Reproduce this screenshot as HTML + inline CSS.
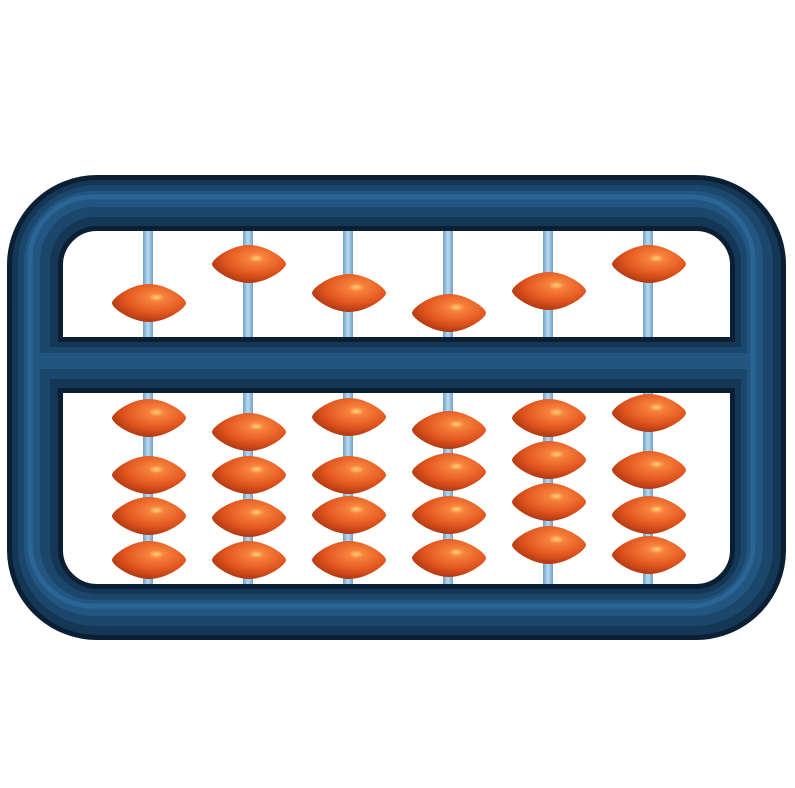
<!DOCTYPE html>
<html><head><style>html,body{margin:0;padding:0;background:#fff;}svg{display:block}</style></head>
<body>
<svg width="795" height="788" viewBox="0 0 795 788" xmlns="http://www.w3.org/2000/svg">
<defs>
<radialGradient id="bead" cx="0.6" cy="0.35" r="0.7">
<stop offset="0" stop-color="#ffd27a"/>
<stop offset="0.15" stop-color="#f7823c"/>
<stop offset="0.6" stop-color="#e2561f"/>
<stop offset="1" stop-color="#a83210"/>
</radialGradient>
<linearGradient id="rod" x1="0" x2="1">
<stop offset="0" stop-color="#6f9fc4"/><stop offset="0.5" stop-color="#b9dcf2"/><stop offset="1" stop-color="#6f9fc4"/>
</linearGradient>
<symbol id="b" viewBox="-38 -20 76 40" overflow="visible">
<path d="M-37,0 C-37,-5 -18,-19 0,-19 C18,-19 37,-5 37,0 C37,5 18,19 0,19 C-18,19 -37,5 -37,0 Z" fill="url(#bead)"/>
</symbol>
</defs>
<g fill="url(#rod)">
<rect x="143" y="230" width="10" height="355"/>
<rect x="243" y="230" width="10" height="355"/>
<rect x="343" y="230" width="10" height="355"/>
<rect x="443" y="230" width="10" height="355"/>
<rect x="543" y="230" width="10" height="355"/>
<rect x="643" y="230" width="10" height="355"/>
</g>
<g fill="none" stroke-linejoin="round">
<g stroke="#0a1f33" stroke-width="56">
<rect x="35" y="203" width="723" height="409" rx="62"/>
<line x1="35" y1="365" x2="758" y2="365"/>
</g>
<g stroke="#133754" stroke-width="46">
<rect x="35" y="203" width="723" height="409" rx="62"/>
<line x1="35" y1="365" x2="758" y2="365"/>
</g>
<g stroke="#1b476c" stroke-width="32" transform="translate(-1,-2)">
<rect x="35" y="203" width="723" height="409" rx="62"/>
<line x1="35" y1="365" x2="758" y2="365"/>
</g>
<g stroke="#22557f" stroke-width="16" transform="translate(-3,-4)">
<rect x="35" y="203" width="723" height="409" rx="62"/>
<line x1="35" y1="365" x2="758" y2="365"/>
</g>
<g stroke="#2f6c9e" stroke-width="5" transform="translate(-5,-6)" opacity="0.7">
<rect x="35" y="203" width="723" height="409" rx="62"/>
</g>
</g>
<g>
<use href="#b" x="111" y="283" width="76" height="40"/>
<use href="#b" x="211" y="244" width="76" height="40"/>
<use href="#b" x="311" y="273" width="76" height="40"/>
<use href="#b" x="411" y="293" width="76" height="40"/>
<use href="#b" x="511" y="271" width="76" height="40"/>
<use href="#b" x="611" y="244" width="76" height="40"/>

<use href="#b" x="111" y="398" width="76" height="40"/>
<use href="#b" x="111" y="455" width="76" height="40"/>
<use href="#b" x="111" y="496" width="76" height="40"/>
<use href="#b" x="111" y="540" width="76" height="40"/>

<use href="#b" x="211" y="412" width="76" height="40"/>
<use href="#b" x="211" y="455" width="76" height="40"/>
<use href="#b" x="211" y="498" width="76" height="40"/>
<use href="#b" x="211" y="540" width="76" height="40"/>

<use href="#b" x="311" y="397" width="76" height="40"/>
<use href="#b" x="311" y="455" width="76" height="40"/>
<use href="#b" x="311" y="495" width="76" height="40"/>
<use href="#b" x="311" y="540" width="76" height="40"/>

<use href="#b" x="411" y="410" width="76" height="40"/>
<use href="#b" x="411" y="452" width="76" height="40"/>
<use href="#b" x="411" y="495" width="76" height="40"/>
<use href="#b" x="411" y="538" width="76" height="40"/>

<use href="#b" x="511" y="398" width="76" height="40"/>
<use href="#b" x="511" y="440" width="76" height="40"/>
<use href="#b" x="511" y="482" width="76" height="40"/>
<use href="#b" x="511" y="525" width="76" height="40"/>

<use href="#b" x="611" y="393" width="76" height="40"/>
<use href="#b" x="611" y="450" width="76" height="40"/>
<use href="#b" x="611" y="495" width="76" height="40"/>
<use href="#b" x="611" y="535" width="76" height="40"/>
</g>
</svg>
</body></html>
